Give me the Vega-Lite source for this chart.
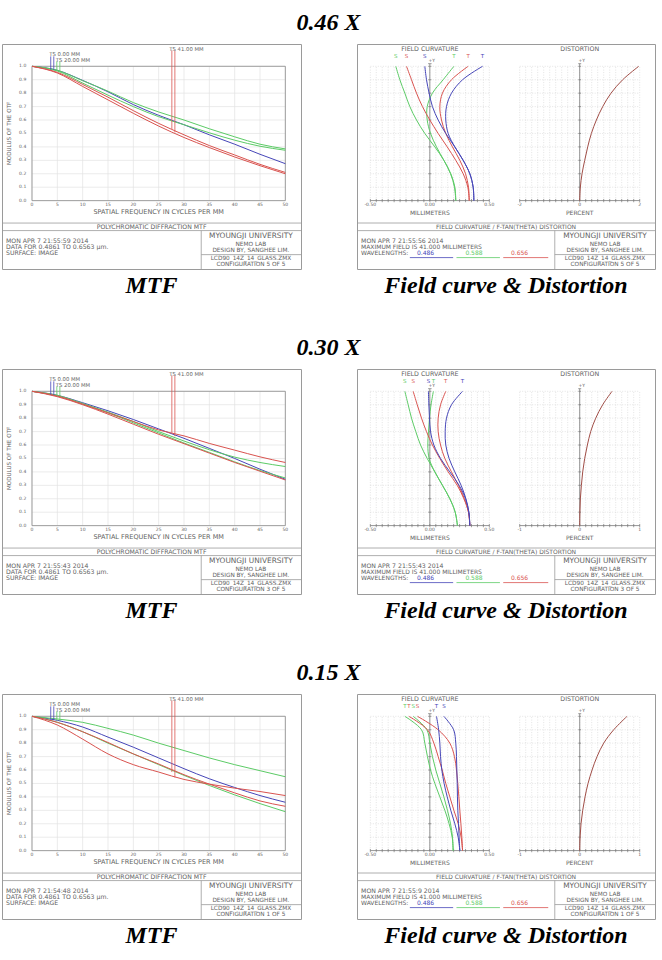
{
"$schema": "https://vega.github.io/schema/vega-lite/v6.json",
"padding": {"left": 1, "top": 10, "right": 0, "bottom": 0},
"data": {"values": [{}]},
"config": {
  "view": {"stroke": "#9a9a9a", "strokeWidth": 1},
  "axis": {"disable": true},
  "text": {"font": "DejaVu Sans", "fontSize": 6, "color": "#626262", "baseline": "middle"},
  "rule": {"color": "#8a8a8a", "strokeWidth": 0.8},
  "title": {"font": "Liberation Serif", "fontStyle": "italic", "fontWeight": "bold", "fontSize": 24, "color": "#000000"}
},
"datasets": {
  "mgx": [{"v":0},{"v":5},{"v":10},{"v":15},{"v":20},{"v":25},{"v":30},{"v":35},{"v":40},{"v":45},{"v":50}],
  "mgy": [{"v":0},{"v":0.1},{"v":0.2},{"v":0.3},{"v":0.4},{"v":0.5},{"v":0.6},{"v":0.7},{"v":0.8},{"v":0.9},{"v":1}],
  "fgx": [{"v":-0.5},{"v":-0.45},{"v":-0.4},{"v":-0.35},{"v":-0.3},{"v":-0.25},{"v":-0.2},{"v":-0.15},{"v":-0.1},{"v":-0.05},{"v":0},{"v":0.05},{"v":0.1},{"v":0.15},{"v":0.2},{"v":0.25},{"v":0.3},{"v":0.35},{"v":0.4},{"v":0.45},{"v":0.5}],
  "fgy": [{"v":4.1},{"v":8.2},{"v":12.3},{"v":16.4},{"v":20.5},{"v":24.6},{"v":28.7},{"v":32.8},{"v":36.9},{"v":41}],
  "dgx2": [{"v":-2},{"v":-1.8},{"v":-1.6},{"v":-1.4},{"v":-1.2},{"v":-1},{"v":-0.8},{"v":-0.6},{"v":-0.4},{"v":-0.2},{"v":0},{"v":0.2},{"v":0.4},{"v":0.6},{"v":0.8},{"v":1},{"v":1.2},{"v":1.4},{"v":1.6},{"v":1.8},{"v":2}],
  "dgx1": [{"v":-1},{"v":-0.9},{"v":-0.8},{"v":-0.7},{"v":-0.6},{"v":-0.5},{"v":-0.4},{"v":-0.3},{"v":-0.2},{"v":-0.1},{"v":0},{"v":0.1},{"v":0.2},{"v":0.3},{"v":0.4},{"v":0.5},{"v":0.6},{"v":0.7},{"v":0.8},{"v":0.9},{"v":1}],
  "fcl": [{"v":-0.5,"t":"-0.50"},{"v":0,"t":"0.00"},{"v":0.5,"t":"0.50"}],
  "dl2": [{"v":-2,"t":"-2"},{"v":0,"t":"0"},{"v":2,"t":"2"}],
  "dl1": [{"v":-1,"t":"-1"},{"v":0,"t":"0"},{"v":1,"t":"1"}],
  "m1": [
    {"c":"b","s":"T","f":0,"m":1},{"c":"b","s":"T","f":5,"m":0.97},{"c":"b","s":"T","f":10,"m":0.895},{"c":"b","s":"T","f":15,"m":0.81},{"c":"b","s":"T","f":20,"m":0.715},{"c":"b","s":"T","f":25,"m":0.635},{"c":"b","s":"T","f":30,"m":0.565},{"c":"b","s":"T","f":35,"m":0.49},{"c":"b","s":"T","f":40,"m":0.42},{"c":"b","s":"T","f":45,"m":0.345},{"c":"b","s":"T","f":50,"m":0.275},
    {"c":"g","s":"T","f":0,"m":1},{"c":"g","s":"T","f":5,"m":0.97},{"c":"g","s":"T","f":10,"m":0.893},{"c":"g","s":"T","f":15,"m":0.815},{"c":"g","s":"T","f":20,"m":0.73},{"c":"g","s":"T","f":25,"m":0.66},{"c":"g","s":"T","f":30,"m":0.6},{"c":"g","s":"T","f":35,"m":0.535},{"c":"g","s":"T","f":40,"m":0.475},{"c":"g","s":"T","f":45,"m":0.42},{"c":"g","s":"T","f":50,"m":0.385},
    {"c":"g","s":"S","f":0,"m":1},{"c":"g","s":"S","f":5,"m":0.965},{"c":"g","s":"S","f":10,"m":0.875},{"c":"g","s":"S","f":15,"m":0.785},{"c":"g","s":"S","f":20,"m":0.7},{"c":"g","s":"S","f":25,"m":0.625},{"c":"g","s":"S","f":30,"m":0.565},{"c":"g","s":"S","f":35,"m":0.505},{"c":"g","s":"S","f":40,"m":0.45},{"c":"g","s":"S","f":45,"m":0.405},{"c":"g","s":"S","f":50,"m":0.375},
    {"c":"r","s":"T","f":0,"m":1},{"c":"r","s":"T","f":5,"m":0.955},{"c":"r","s":"T","f":10,"m":0.865},{"c":"r","s":"T","f":15,"m":0.77},{"c":"r","s":"T","f":20,"m":0.67},{"c":"r","s":"T","f":25,"m":0.575},{"c":"r","s":"T","f":30,"m":0.49},{"c":"r","s":"T","f":35,"m":0.41},{"c":"r","s":"T","f":40,"m":0.34},{"c":"r","s":"T","f":45,"m":0.27},{"c":"r","s":"T","f":50,"m":0.21},
    {"c":"r","s":"S","f":0,"m":1},{"c":"r","s":"S","f":5,"m":0.95},{"c":"r","s":"S","f":10,"m":0.85},{"c":"r","s":"S","f":15,"m":0.75},{"c":"r","s":"S","f":20,"m":0.65},{"c":"r","s":"S","f":25,"m":0.555},{"c":"r","s":"S","f":30,"m":0.47},{"c":"r","s":"S","f":35,"m":0.395},{"c":"r","s":"S","f":40,"m":0.325},{"c":"r","s":"S","f":45,"m":0.26},{"c":"r","s":"S","f":50,"m":0.2}
  ],
  "m2": [
    {"c":"b","s":"T","f":0,"m":1},{"c":"b","s":"T","f":5,"m":0.97},{"c":"b","s":"T","f":10,"m":0.915},{"c":"b","s":"T","f":15,"m":0.855},{"c":"b","s":"T","f":20,"m":0.79},{"c":"b","s":"T","f":25,"m":0.72},{"c":"b","s":"T","f":30,"m":0.65},{"c":"b","s":"T","f":35,"m":0.575},{"c":"b","s":"T","f":40,"m":0.5},{"c":"b","s":"T","f":45,"m":0.42},{"c":"b","s":"T","f":50,"m":0.345},
    {"c":"g","s":"T","f":0,"m":1},{"c":"g","s":"T","f":5,"m":0.97},{"c":"g","s":"T","f":10,"m":0.91},{"c":"g","s":"T","f":15,"m":0.845},{"c":"g","s":"T","f":20,"m":0.775},{"c":"g","s":"T","f":25,"m":0.7},{"c":"g","s":"T","f":30,"m":0.63},{"c":"g","s":"T","f":35,"m":0.565},{"c":"g","s":"T","f":40,"m":0.51},{"c":"g","s":"T","f":45,"m":0.47},{"c":"g","s":"T","f":50,"m":0.44},
    {"c":"g","s":"S","f":0,"m":1},{"c":"g","s":"S","f":5,"m":0.965},{"c":"g","s":"S","f":10,"m":0.905},{"c":"g","s":"S","f":15,"m":0.84},{"c":"g","s":"S","f":20,"m":0.765},{"c":"g","s":"S","f":25,"m":0.69},{"c":"g","s":"S","f":30,"m":0.615},{"c":"g","s":"S","f":35,"m":0.545},{"c":"g","s":"S","f":40,"m":0.475},{"c":"g","s":"S","f":45,"m":0.41},{"c":"g","s":"S","f":50,"m":0.355},
    {"c":"r","s":"T","f":0,"m":1},{"c":"r","s":"T","f":5,"m":0.965},{"c":"r","s":"T","f":10,"m":0.905},{"c":"r","s":"T","f":15,"m":0.84},{"c":"r","s":"T","f":20,"m":0.775},{"c":"r","s":"T","f":25,"m":0.712},{"c":"r","s":"T","f":30,"m":0.668},{"c":"r","s":"T","f":35,"m":0.612},{"c":"r","s":"T","f":40,"m":0.562},{"c":"r","s":"T","f":45,"m":0.512},{"c":"r","s":"T","f":50,"m":0.47},
    {"c":"r","s":"S","f":0,"m":1},{"c":"r","s":"S","f":5,"m":0.96},{"c":"r","s":"S","f":10,"m":0.9},{"c":"r","s":"S","f":15,"m":0.83},{"c":"r","s":"S","f":20,"m":0.755},{"c":"r","s":"S","f":25,"m":0.68},{"c":"r","s":"S","f":30,"m":0.61},{"c":"r","s":"S","f":35,"m":0.54},{"c":"r","s":"S","f":40,"m":0.47},{"c":"r","s":"S","f":45,"m":0.405},{"c":"r","s":"S","f":50,"m":0.34}
  ],
  "m3": [
    {"c":"b","s":"T","f":0,"m":1},{"c":"b","s":"T","f":5,"m":0.97},{"c":"b","s":"T","f":10,"m":0.92},{"c":"b","s":"T","f":15,"m":0.845},{"c":"b","s":"T","f":20,"m":0.77},{"c":"b","s":"T","f":25,"m":0.69},{"c":"b","s":"T","f":30,"m":0.61},{"c":"b","s":"T","f":35,"m":0.535},{"c":"b","s":"T","f":40,"m":0.47},{"c":"b","s":"T","f":45,"m":0.41},{"c":"b","s":"T","f":50,"m":0.36},
    {"c":"g","s":"T","f":0,"m":1},{"c":"g","s":"T","f":5,"m":0.98},{"c":"g","s":"T","f":10,"m":0.955},{"c":"g","s":"T","f":15,"m":0.91},{"c":"g","s":"T","f":20,"m":0.86},{"c":"g","s":"T","f":25,"m":0.8},{"c":"g","s":"T","f":30,"m":0.745},{"c":"g","s":"T","f":35,"m":0.69},{"c":"g","s":"T","f":40,"m":0.64},{"c":"g","s":"T","f":45,"m":0.595},{"c":"g","s":"T","f":50,"m":0.55},
    {"c":"g","s":"S","f":0,"m":1},{"c":"g","s":"S","f":5,"m":0.955},{"c":"g","s":"S","f":10,"m":0.885},{"c":"g","s":"S","f":15,"m":0.8},{"c":"g","s":"S","f":20,"m":0.72},{"c":"g","s":"S","f":25,"m":0.64},{"c":"g","s":"S","f":30,"m":0.56},{"c":"g","s":"S","f":35,"m":0.485},{"c":"g","s":"S","f":40,"m":0.415},{"c":"g","s":"S","f":45,"m":0.35},{"c":"g","s":"S","f":50,"m":0.29},
    {"c":"r","s":"T","f":0,"m":1},{"c":"r","s":"T","f":5,"m":0.935},{"c":"r","s":"T","f":10,"m":0.83},{"c":"r","s":"T","f":15,"m":0.72},{"c":"r","s":"T","f":20,"m":0.64},{"c":"r","s":"T","f":25,"m":0.585},{"c":"r","s":"T","f":30,"m":0.53},{"c":"r","s":"T","f":35,"m":0.495},{"c":"r","s":"T","f":40,"m":0.465},{"c":"r","s":"T","f":45,"m":0.44},{"c":"r","s":"T","f":50,"m":0.41},
    {"c":"r","s":"S","f":0,"m":1},{"c":"r","s":"S","f":5,"m":0.955},{"c":"r","s":"S","f":10,"m":0.885},{"c":"r","s":"S","f":15,"m":0.805},{"c":"r","s":"S","f":20,"m":0.72},{"c":"r","s":"S","f":25,"m":0.645},{"c":"r","s":"S","f":30,"m":0.565},{"c":"r","s":"S","f":35,"m":0.495},{"c":"r","s":"S","f":40,"m":0.43},{"c":"r","s":"S","f":45,"m":0.37},{"c":"r","s":"S","f":50,"m":0.33}
  ],
  "ml1": [{"c":"b","f":3.7,"m":0.975},{"c":"b","f":4.3,"m":0.972},{"c":"g","f":4.9,"m":0.968},{"c":"g","f":5.5,"m":0.964},{"c":"r","f":27.6,"m":0.53},{"c":"r","f":28.2,"m":0.508}],
  "ml2": [{"c":"b","f":3.7,"m":0.975},{"c":"b","f":4.3,"m":0.972},{"c":"g","f":4.9,"m":0.968},{"c":"g","f":5.5,"m":0.964},{"c":"r","f":27.6,"m":0.69},{"c":"r","f":28.2,"m":0.665}],
  "ml3": [{"c":"b","f":3.7,"m":0.975},{"c":"b","f":4.3,"m":0.972},{"c":"g","f":4.9,"m":0.968},{"c":"g","f":5.5,"m":0.964},{"c":"r","f":27.6,"m":0.585},{"c":"r","f":28.2,"m":0.545}],
  "f1": [
    {"c":"g","s":"S","mm":-0.286,"fy":41},{"c":"g","s":"S","mm":-0.252,"fy":36.9},{"c":"g","s":"S","mm":-0.21,"fy":32.8},{"c":"g","s":"S","mm":-0.168,"fy":28.7},{"c":"g","s":"S","mm":-0.112,"fy":24.6},{"c":"g","s":"S","mm":-0.042,"fy":20.5},{"c":"g","s":"S","mm":0.042,"fy":16.4},{"c":"g","s":"S","mm":0.118,"fy":12.3},{"c":"g","s":"S","mm":0.176,"fy":8.2},{"c":"g","s":"S","mm":0.21,"fy":4.1},{"c":"g","s":"S","mm":0.218,"fy":0},
    {"c":"g","s":"T","mm":0.202,"fy":41},{"c":"g","s":"T","mm":0.112,"fy":36.9},{"c":"g","s":"T","mm":0.022,"fy":32.8},{"c":"g","s":"T","mm":-0.022,"fy":28.7},{"c":"g","s":"T","mm":-0.022,"fy":24.6},{"c":"g","s":"T","mm":0.006,"fy":20.5},{"c":"g","s":"T","mm":0.056,"fy":16.4},{"c":"g","s":"T","mm":0.118,"fy":12.3},{"c":"g","s":"T","mm":0.174,"fy":8.2},{"c":"g","s":"T","mm":0.207,"fy":4.1},{"c":"g","s":"T","mm":0.218,"fy":0},
    {"c":"r","s":"S","mm":-0.196,"fy":41},{"c":"r","s":"S","mm":-0.154,"fy":36.9},{"c":"r","s":"S","mm":-0.112,"fy":32.8},{"c":"r","s":"S","mm":-0.062,"fy":28.7},{"c":"r","s":"S","mm":0,"fy":24.6},{"c":"r","s":"S","mm":0.07,"fy":20.5},{"c":"r","s":"S","mm":0.146,"fy":16.4},{"c":"r","s":"S","mm":0.218,"fy":12.3},{"c":"r","s":"S","mm":0.28,"fy":8.2},{"c":"r","s":"S","mm":0.319,"fy":4.1},{"c":"r","s":"S","mm":0.331,"fy":0},
    {"c":"r","s":"T","mm":0.322,"fy":41},{"c":"r","s":"T","mm":0.182,"fy":36.9},{"c":"r","s":"T","mm":0.106,"fy":32.8},{"c":"r","s":"T","mm":0.084,"fy":28.7},{"c":"r","s":"T","mm":0.098,"fy":24.6},{"c":"r","s":"T","mm":0.134,"fy":20.5},{"c":"r","s":"T","mm":0.19,"fy":16.4},{"c":"r","s":"T","mm":0.252,"fy":12.3},{"c":"r","s":"T","mm":0.3,"fy":8.2},{"c":"r","s":"T","mm":0.325,"fy":4.1},{"c":"r","s":"T","mm":0.331,"fy":0},
    {"c":"b","s":"S","mm":-0.042,"fy":41},{"c":"b","s":"S","mm":-0.028,"fy":36.9},{"c":"b","s":"S","mm":-0.006,"fy":32.8},{"c":"b","s":"S","mm":0.022,"fy":28.7},{"c":"b","s":"S","mm":0.07,"fy":24.6},{"c":"b","s":"S","mm":0.134,"fy":20.5},{"c":"b","s":"S","mm":0.21,"fy":16.4},{"c":"b","s":"S","mm":0.28,"fy":12.3},{"c":"b","s":"S","mm":0.336,"fy":8.2},{"c":"b","s":"S","mm":0.364,"fy":4.1},{"c":"b","s":"S","mm":0.37,"fy":0},
    {"c":"b","s":"T","mm":0.443,"fy":41},{"c":"b","s":"T","mm":0.275,"fy":36.9},{"c":"b","s":"T","mm":0.182,"fy":32.8},{"c":"b","s":"T","mm":0.14,"fy":28.7},{"c":"b","s":"T","mm":0.134,"fy":24.6},{"c":"b","s":"T","mm":0.154,"fy":20.5},{"c":"b","s":"T","mm":0.21,"fy":16.4},{"c":"b","s":"T","mm":0.28,"fy":12.3},{"c":"b","s":"T","mm":0.336,"fy":8.2},{"c":"b","s":"T","mm":0.364,"fy":4.1},{"c":"b","s":"T","mm":0.37,"fy":0}
  ],
  "f2": [
    {"c":"g","s":"S","mm":-0.21,"fy":41},{"c":"g","s":"S","mm":-0.182,"fy":36.9},{"c":"g","s":"S","mm":-0.154,"fy":32.8},{"c":"g","s":"S","mm":-0.118,"fy":28.7},{"c":"g","s":"S","mm":-0.078,"fy":24.6},{"c":"g","s":"S","mm":-0.022,"fy":20.5},{"c":"g","s":"S","mm":0.042,"fy":16.4},{"c":"g","s":"S","mm":0.106,"fy":12.3},{"c":"g","s":"S","mm":0.168,"fy":8.2},{"c":"g","s":"S","mm":0.213,"fy":4.1},{"c":"g","s":"S","mm":0.232,"fy":0},
    {"c":"g","s":"T","mm":0.03,"fy":41},{"c":"g","s":"T","mm":0.01,"fy":36.9},{"c":"g","s":"T","mm":-0.003,"fy":32.8},{"c":"g","s":"T","mm":-0.011,"fy":28.7},{"c":"g","s":"T","mm":-0.017,"fy":24.6},{"c":"g","s":"T","mm":-0.006,"fy":20.5},{"c":"g","s":"T","mm":0.042,"fy":16.4},{"c":"g","s":"T","mm":0.106,"fy":12.3},{"c":"g","s":"T","mm":0.168,"fy":8.2},{"c":"g","s":"T","mm":0.213,"fy":4.1},{"c":"g","s":"T","mm":0.232,"fy":0},
    {"c":"r","s":"S","mm":-0.14,"fy":41},{"c":"r","s":"S","mm":-0.106,"fy":36.9},{"c":"r","s":"S","mm":-0.07,"fy":32.8},{"c":"r","s":"S","mm":-0.028,"fy":28.7},{"c":"r","s":"S","mm":0.022,"fy":24.6},{"c":"r","s":"S","mm":0.084,"fy":20.5},{"c":"r","s":"S","mm":0.154,"fy":16.4},{"c":"r","s":"S","mm":0.23,"fy":12.3},{"c":"r","s":"S","mm":0.286,"fy":8.2},{"c":"r","s":"S","mm":0.325,"fy":4.1},{"c":"r","s":"S","mm":0.336,"fy":0},
    {"c":"r","s":"T","mm":0.134,"fy":41},{"c":"r","s":"T","mm":0.09,"fy":36.9},{"c":"r","s":"T","mm":0.07,"fy":32.8},{"c":"r","s":"T","mm":0.07,"fy":28.7},{"c":"r","s":"T","mm":0.09,"fy":24.6},{"c":"r","s":"T","mm":0.126,"fy":20.5},{"c":"r","s":"T","mm":0.182,"fy":16.4},{"c":"r","s":"T","mm":0.241,"fy":12.3},{"c":"r","s":"T","mm":0.291,"fy":8.2},{"c":"r","s":"T","mm":0.325,"fy":4.1},{"c":"r","s":"T","mm":0.336,"fy":0},
    {"c":"b","s":"S","mm":-0.012,"fy":41},{"c":"b","s":"S","mm":-0.008,"fy":36.9},{"c":"b","s":"S","mm":-0.003,"fy":32.8},{"c":"b","s":"S","mm":0.006,"fy":28.7},{"c":"b","s":"S","mm":0.034,"fy":24.6},{"c":"b","s":"S","mm":0.09,"fy":20.5},{"c":"b","s":"S","mm":0.168,"fy":16.4},{"c":"b","s":"S","mm":0.246,"fy":12.3},{"c":"b","s":"S","mm":0.3,"fy":8.2},{"c":"b","s":"S","mm":0.328,"fy":4.1},{"c":"b","s":"S","mm":0.336,"fy":0},
    {"c":"b","s":"T","mm":0.275,"fy":41},{"c":"b","s":"T","mm":0.182,"fy":36.9},{"c":"b","s":"T","mm":0.14,"fy":32.8},{"c":"b","s":"T","mm":0.129,"fy":28.7},{"c":"b","s":"T","mm":0.134,"fy":24.6},{"c":"b","s":"T","mm":0.162,"fy":20.5},{"c":"b","s":"T","mm":0.21,"fy":16.4},{"c":"b","s":"T","mm":0.263,"fy":12.3},{"c":"b","s":"T","mm":0.303,"fy":8.2},{"c":"b","s":"T","mm":0.328,"fy":4.1},{"c":"b","s":"T","mm":0.336,"fy":0}
  ],
  "f3": [
    {"c":"g","s":"T","mm":-0.21,"fy":41},{"c":"g","s":"T","mm":-0.07,"fy":36.9},{"c":"g","s":"T","mm":-0.042,"fy":32.8},{"c":"g","s":"T","mm":-0.02,"fy":28.7},{"c":"g","s":"T","mm":0.006,"fy":24.6},{"c":"g","s":"T","mm":0.042,"fy":20.5},{"c":"g","s":"T","mm":0.084,"fy":16.4},{"c":"g","s":"T","mm":0.126,"fy":12.3},{"c":"g","s":"T","mm":0.162,"fy":8.2},{"c":"g","s":"T","mm":0.188,"fy":4.1},{"c":"g","s":"T","mm":0.196,"fy":0},
    {"c":"g","s":"S","mm":-0.14,"fy":41},{"c":"g","s":"S","mm":-0.025,"fy":36.9},{"c":"g","s":"S","mm":0,"fy":32.8},{"c":"g","s":"S","mm":0.022,"fy":28.7},{"c":"g","s":"S","mm":0.05,"fy":24.6},{"c":"g","s":"S","mm":0.084,"fy":20.5},{"c":"g","s":"S","mm":0.118,"fy":16.4},{"c":"g","s":"S","mm":0.148,"fy":12.3},{"c":"g","s":"S","mm":0.174,"fy":8.2},{"c":"g","s":"S","mm":0.19,"fy":4.1},{"c":"g","s":"S","mm":0.196,"fy":0},
    {"c":"r","s":"T","mm":-0.176,"fy":41},{"c":"r","s":"T","mm":-0.02,"fy":36.9},{"c":"r","s":"T","mm":0.034,"fy":32.8},{"c":"r","s":"T","mm":0.07,"fy":28.7},{"c":"r","s":"T","mm":0.104,"fy":24.6},{"c":"r","s":"T","mm":0.134,"fy":20.5},{"c":"r","s":"T","mm":0.168,"fy":16.4},{"c":"r","s":"T","mm":0.202,"fy":12.3},{"c":"r","s":"T","mm":0.238,"fy":8.2},{"c":"r","s":"T","mm":0.263,"fy":4.1},{"c":"r","s":"T","mm":0.275,"fy":0},
    {"c":"r","s":"S","mm":-0.104,"fy":41},{"c":"r","s":"S","mm":0.07,"fy":36.9},{"c":"r","s":"S","mm":0.168,"fy":32.8},{"c":"r","s":"S","mm":0.207,"fy":28.7},{"c":"r","s":"S","mm":0.224,"fy":24.6},{"c":"r","s":"S","mm":0.235,"fy":20.5},{"c":"r","s":"S","mm":0.244,"fy":16.4},{"c":"r","s":"S","mm":0.252,"fy":12.3},{"c":"r","s":"S","mm":0.261,"fy":8.2},{"c":"r","s":"S","mm":0.269,"fy":4.1},{"c":"r","s":"S","mm":0.275,"fy":0},
    {"c":"b","s":"T","mm":0.056,"fy":41},{"c":"b","s":"T","mm":0.074,"fy":36.9},{"c":"b","s":"T","mm":0.084,"fy":32.8},{"c":"b","s":"T","mm":0.09,"fy":28.7},{"c":"b","s":"T","mm":0.101,"fy":24.6},{"c":"b","s":"T","mm":0.12,"fy":20.5},{"c":"b","s":"T","mm":0.146,"fy":16.4},{"c":"b","s":"T","mm":0.176,"fy":12.3},{"c":"b","s":"T","mm":0.21,"fy":8.2},{"c":"b","s":"T","mm":0.238,"fy":4.1},{"c":"b","s":"T","mm":0.252,"fy":0},
    {"c":"b","s":"S","mm":0.118,"fy":41},{"c":"b","s":"S","mm":0.2,"fy":36.9},{"c":"b","s":"S","mm":0.218,"fy":32.8},{"c":"b","s":"S","mm":0.224,"fy":28.7},{"c":"b","s":"S","mm":0.227,"fy":24.6},{"c":"b","s":"S","mm":0.23,"fy":20.5},{"c":"b","s":"S","mm":0.232,"fy":16.4},{"c":"b","s":"S","mm":0.235,"fy":12.3},{"c":"b","s":"S","mm":0.241,"fy":8.2},{"c":"b","s":"S","mm":0.246,"fy":4.1},{"c":"b","s":"S","mm":0.252,"fy":0}
  ],
  "d1": [{"c":"d","p":0,"fy":0},{"c":"d","p":0.022,"fy":4.1},{"c":"d","p":0.078,"fy":8.2},{"c":"d","p":0.167,"fy":12.3},{"c":"d","p":0.267,"fy":16.4},{"c":"d","p":0.389,"fy":20.5},{"c":"d","p":0.556,"fy":24.6},{"c":"d","p":0.767,"fy":28.7},{"c":"d","p":1.044,"fy":32.8},{"c":"d","p":1.433,"fy":36.9},{"c":"d","p":1.967,"fy":41}],
  "d2": [{"c":"d","p":0,"fy":0},{"c":"d","p":0.003,"fy":4.1},{"c":"d","p":0.011,"fy":8.2},{"c":"d","p":0.028,"fy":12.3},{"c":"d","p":0.05,"fy":16.4},{"c":"d","p":0.083,"fy":20.5},{"c":"d","p":0.128,"fy":24.6},{"c":"d","p":0.183,"fy":28.7},{"c":"d","p":0.267,"fy":32.8},{"c":"d","p":0.383,"fy":36.9},{"c":"d","p":0.539,"fy":41}],
  "d3": [{"c":"d","p":0,"fy":0},{"c":"d","p":0.006,"fy":4.1},{"c":"d","p":0.022,"fy":8.2},{"c":"d","p":0.05,"fy":12.3},{"c":"d","p":0.089,"fy":16.4},{"c":"d","p":0.139,"fy":20.5},{"c":"d","p":0.206,"fy":24.6},{"c":"d","p":0.289,"fy":28.7},{"c":"d","p":0.4,"fy":32.8},{"c":"d","p":0.567,"fy":36.9},{"c":"d","p":0.789,"fy":41}]
},
"spacing": 36,
"vconcat": [
{
  "title": {"text": "0.46 X", "anchor": "middle", "offset": 9},
  "spacing": 54,
  "hconcat": [
  {
    "width": 299, "height": 225,
    "title": {"text": "MTF", "orient": "bottom", "offset": 5},
    "layer": [
      {"data": {"name": "mgx"}, "mark": {"type": "rule", "color": "#e2e2e2", "strokeWidth": 0.7}, "encoding": {"x": {"field": "v", "type": "quantitative", "scale": {"domain": [-5.92, 53.09], "nice": false, "zero": false}, "axis": null}, "y": {"datum": 0, "scale": {"domain": [-0.509, 1.166], "nice": false, "zero": false}, "axis": null}, "y2": {"datum": 1}}},
      {"data": {"name": "mgy"}, "mark": {"type": "rule", "color": "#e2e2e2", "strokeWidth": 0.7}, "encoding": {"y": {"field": "v", "type": "quantitative"}, "x": {"datum": 0}, "x2": {"datum": 50}}},
      {"data": {"values": [{"v": 0}, {"v": 50}]}, "mark": {"type": "rule"}, "encoding": {"x": {"field": "v", "type": "quantitative"}, "y": {"datum": 0}, "y2": {"datum": 1}}},
      {"data": {"values": [{"v": 0}, {"v": 1}]}, "mark": {"type": "rule"}, "encoding": {"y": {"field": "v", "type": "quantitative"}, "x": {"datum": 0}, "x2": {"datum": 50}}},
      {"data": {"name": "mgx"}, "mark": {"type": "text", "fontSize": 4.5}, "encoding": {"x": {"field": "v", "type": "quantitative"}, "y": {"datum": -0.035}, "text": {"field": "v", "type": "quantitative"}}},
      {"data": {"name": "mgy"}, "mark": {"type": "text", "fontSize": 4.5}, "encoding": {"y": {"field": "v", "type": "quantitative"}, "x": {"datum": -1.84}, "text": {"field": "v", "type": "quantitative", "format": ".1f"}}},
      {"mark": {"type": "text", "text": "MODULUS OF THE OTF", "angle": 270, "fontSize": 5.6}, "encoding": {"x": {"datum": -4.5}, "y": {"datum": 0.5}}},
      {"mark": {"type": "text", "text": "SPATIAL FREQUENCY IN CYCLES PER MM", "fontSize": 6.5}, "encoding": {"x": {"datum": 25}, "y": {"datum": -0.085}}},
      {"data": {"name": "m1"}, "mark": {"type": "line", "interpolate": "monotone", "strokeWidth": 1}, "encoding": {"x": {"field": "f", "type": "quantitative"}, "y": {"field": "m", "type": "quantitative"}, "color": {"field": "c", "type": "nominal", "scale": {"domain": ["b","g","r","d"], "range": ["#4646b8","#5ccb66","#d9534f","#a04d46"]}, "legend": null}, "detail": {"field": "s"}}},
      {"data": {"name": "ml1"}, "transform": [{"filter": "datum.c == 'b'"}], "mark": {"type": "rule", "strokeWidth": 0.8}, "encoding": {"x": {"field": "f", "type": "quantitative"}, "y": {"field": "m", "type": "quantitative"}, "y2": {"datum": 1.074}, "color": {"field": "c", "type": "nominal", "scale": {"domain": ["b","g","r","d"], "range": ["#4646b8","#5ccb66","#d9534f","#a04d46"]}, "legend": null}}},
      {"data": {"name": "ml1"}, "transform": [{"filter": "datum.c == 'g'"}], "mark": {"type": "rule", "strokeWidth": 0.8}, "encoding": {"x": {"field": "f", "type": "quantitative"}, "y": {"field": "m", "type": "quantitative"}, "y2": {"datum": 1.037}, "color": {"field": "c", "type": "nominal", "scale": {"domain": ["b","g","r","d"], "range": ["#4646b8","#5ccb66","#d9534f","#a04d46"]}, "legend": null}}},
      {"data": {"name": "ml1"}, "transform": [{"filter": "datum.c == 'r'"}], "mark": {"type": "rule", "strokeWidth": 0.8}, "encoding": {"x": {"field": "f", "type": "quantitative"}, "y": {"field": "m", "type": "quantitative"}, "y2": {"datum": 1.118}, "color": {"field": "c", "type": "nominal", "scale": {"domain": ["b","g","r","d"], "range": ["#4646b8","#5ccb66","#d9534f","#a04d46"]}, "legend": null}}},
      {"mark": {"type": "text", "text": "TS 0.00 MM", "align": "left", "fontSize": 5.3}, "encoding": {"x": {"datum": 3.4}, "y": {"datum": 1.092}}},
      {"mark": {"type": "text", "text": "TS 20.00 MM", "align": "left", "fontSize": 5.3}, "encoding": {"x": {"datum": 4.7}, "y": {"datum": 1.05}}},
      {"mark": {"type": "text", "text": "TS 41.00 MM", "align": "left", "fontSize": 5.3}, "encoding": {"x": {"datum": 27.1}, "y": {"datum": 1.132}}},
      {"mark": {"type": "rule", "color": "#9a9a9a"}, "encoding": {"x": {"datum": -5.92}, "x2": {"datum": 53.09}, "y": {"datum": -0.167}}},
      {"mark": {"type": "rule", "color": "#9a9a9a"}, "encoding": {"x": {"datum": -5.92}, "x2": {"datum": 53.09}, "y": {"datum": -0.223}}},
      {"mark": {"type": "rule", "color": "#9a9a9a"}, "encoding": {"x": {"datum": 33.4}, "y": {"datum": -0.223}, "y2": {"datum": -0.509}}},
      {"mark": {"type": "rule", "color": "#9a9a9a"}, "encoding": {"x": {"datum": 33.4}, "x2": {"datum": 53.09}, "y": {"datum": -0.402}}},
      {"mark": {"type": "text", "text": "POLYCHROMATIC DIFFRACTION MTF", "fontSize": 6.2}, "encoding": {"x": {"datum": 23.6}, "y": {"datum": -0.197}}},
      {"mark": {"type": "text", "text": "MON APR 7 21:55:59 2014", "align": "left", "fontSize": 6.2}, "encoding": {"x": {"datum": -5.13}, "y": {"datum": -0.2994}}},
      {"mark": {"type": "text", "text": "DATA FOR 0.4861 TO 0.6563 µm.", "align": "left", "fontSize": 6.2}, "encoding": {"x": {"datum": -5.13}, "y": {"datum": -0.3455}}},
      {"mark": {"type": "text", "text": "SURFACE: IMAGE", "align": "left", "fontSize": 6.2}, "encoding": {"x": {"datum": -5.13}, "y": {"datum": -0.3917}}},
      {"mark": {"type": "text", "text": "MYOUNGJI UNIVERSITY", "fontSize": 7.4}, "encoding": {"x": {"datum": 43.2}, "y": {"datum": -0.261}}},
      {"mark": {"type": "text", "text": "NEMO LAB", "fontSize": 5.8}, "encoding": {"x": {"datum": 43.2}, "y": {"datum": -0.323}}},
      {"mark": {"type": "text", "text": "DESIGN BY, SANGHEE LIM.", "fontSize": 5.8}, "encoding": {"x": {"datum": 43.2}, "y": {"datum": -0.37}}},
      {"mark": {"type": "text", "text": "LCD90_14Z_14_GLASS.ZMX", "fontSize": 5.8}, "encoding": {"x": {"datum": 43.2}, "y": {"datum": -0.429}}},
      {"mark": {"type": "text", "text": "CONFIGURATION 5 OF 5", "fontSize": 5.8}, "encoding": {"x": {"datum": 43.2}, "y": {"datum": -0.474}}}
    ]
  },
  {
    "width": 298, "height": 225,
    "title": {"text": "Field curve & Distortion", "orient": "bottom", "offset": 5},
    "resolve": {"scale": {"x": "independent"}},
    "layer": [
      {"layer": [
        {"data": {"name": "fgx"}, "mark": {"type": "rule", "color": "#d2d2d2", "strokeWidth": 0.6, "strokeDash": [1, 1.5]}, "encoding": {"x": {"field": "v", "type": "quantitative", "scale": {"domain": [-0.612, 1.892], "nice": false, "zero": false}, "axis": null}, "y": {"datum": 0, "scale": {"domain": [-20.88, 47.81], "nice": false, "zero": false}, "axis": null}, "y2": {"datum": 41}}},
        {"data": {"name": "fgy"}, "mark": {"type": "rule", "color": "#d2d2d2", "strokeWidth": 0.6, "strokeDash": [1, 1.5]}, "encoding": {"y": {"field": "v", "type": "quantitative"}, "x": {"datum": -0.5}, "x2": {"datum": 0.5}}},
        {"mark": {"type": "rule", "color": "#777777"}, "encoding": {"x": {"datum": -0.5}, "x2": {"datum": 0.5}, "y": {"datum": 0}}},
        {"data": {"name": "fgx"}, "mark": {"type": "rule", "color": "#777777", "strokeWidth": 0.7}, "encoding": {"x": {"field": "v", "type": "quantitative"}, "y": {"datum": -0.5}, "y2": {"datum": 0.5}}},
        {"mark": {"type": "rule", "color": "#777777"}, "encoding": {"x": {"datum": 0}, "y": {"datum": 0}, "y2": {"datum": 41.8}}},
        {"data": {"name": "fgy"}, "mark": {"type": "rule", "color": "#777777", "strokeWidth": 0.7}, "encoding": {"y": {"field": "v", "type": "quantitative"}, "x": {"datum": -0.013}, "x2": {"datum": 0.013}}},
        {"mark": {"type": "rule", "color": "#777777", "strokeWidth": 0.7}, "encoding": {"x": {"datum": -0.015}, "x2": {"datum": 0.015}, "y": {"datum": 41.8}}},
        {"data": {"name": "f1"}, "mark": {"type": "line", "interpolate": "catmull-rom", "strokeWidth": 1}, "encoding": {"x": {"field": "mm", "type": "quantitative"}, "y": {"field": "fy", "type": "quantitative"}, "color": {"field": "c", "type": "nominal", "scale": {"domain": ["b","g","r","d"], "range": ["#4646b8","#5ccb66","#d9534f","#a04d46"]}, "legend": null}, "detail": {"field": "s"}, "order": {"field": "fy", "type": "quantitative"}}},
        {"data": {"name": "f1"}, "transform": [{"filter": "datum.fy == 41"}], "mark": {"type": "text", "fontSize": 5.5}, "encoding": {"x": {"field": "mm", "type": "quantitative"}, "y": {"datum": 44.15}, "text": {"field": "s"}, "color": {"field": "c", "type": "nominal", "scale": {"domain": ["b","g","r","d"], "range": ["#4646b8","#5ccb66","#d9534f","#a04d46"]}, "legend": null}}},
        {"mark": {"type": "text", "text": "+Y", "fontSize": 4.5, "align": "left"}, "encoding": {"x": {"datum": -0.011}, "y": {"datum": 42.47}}},
        {"mark": {"type": "text", "text": "FIELD CURVATURE", "fontSize": 6.3}, "encoding": {"x": {"datum": 0}, "y": {"datum": 46.34}}},
        {"data": {"name": "fcl"}, "mark": {"type": "text", "fontSize": 4.5}, "encoding": {"x": {"field": "v", "type": "quantitative"}, "y": {"datum": -1.45}, "text": {"field": "t"}}},
        {"mark": {"type": "text", "text": "MILLIMETERS", "fontSize": 6}, "encoding": {"x": {"datum": 0}, "y": {"datum": -3.9}}},
        {"mark": {"type": "rule", "color": "#9a9a9a"}, "encoding": {"x": {"datum": -0.612}, "x2": {"datum": 1.892}, "y": {"datum": -6.84}}},
        {"mark": {"type": "rule", "color": "#9a9a9a"}, "encoding": {"x": {"datum": -0.612}, "x2": {"datum": 1.892}, "y": {"datum": -9.16}}},
        {"mark": {"type": "rule", "color": "#9a9a9a"}, "encoding": {"x": {"datum": 1.05}, "y": {"datum": -9.16}, "y2": {"datum": -20.88}}},
        {"mark": {"type": "rule", "color": "#9a9a9a"}, "encoding": {"x": {"datum": 1.05}, "x2": {"datum": 1.892}, "y": {"datum": -16.48}}},
        {"mark": {"type": "text", "text": "FIELD CURVATURE / F-TAN(THETA) DISTORTION", "fontSize": 6}, "encoding": {"x": {"datum": 0.64}, "y": {"datum": -8.06}}},
        {"mark": {"type": "text", "text": "MON APR 7 21:55:56 2014", "align": "left", "fontSize": 6.2}, "encoding": {"x": {"datum": -0.578}, "y": {"datum": -12.27}}},
        {"mark": {"type": "text", "text": "MAXIMUM FIELD IS 41.000 MILLIMETERS", "align": "left", "fontSize": 6}, "encoding": {"x": {"datum": -0.578}, "y": {"datum": -14.16}}},
        {"mark": {"type": "text", "text": "WAVELENGTHS:", "align": "left", "fontSize": 6}, "encoding": {"x": {"datum": -0.578}, "y": {"datum": -16.06}}},
        {"mark": {"type": "text", "text": "0.486", "fontSize": 6, "color": "#4646b8"}, "encoding": {"x": {"datum": -0.036}, "y": {"datum": -16.06}}},
        {"mark": {"type": "text", "text": "0.588", "fontSize": 6, "color": "#5ccb66"}, "encoding": {"x": {"datum": 0.371}, "y": {"datum": -16.06}}},
        {"mark": {"type": "text", "text": "0.656", "fontSize": 6, "color": "#d9534f"}, "encoding": {"x": {"datum": 0.754}, "y": {"datum": -16.06}}},
        {"mark": {"type": "rule", "color": "#4646b8"}, "encoding": {"x": {"datum": -0.168}, "x2": {"datum": 0.196}, "y": {"datum": -17.4}}},
        {"mark": {"type": "rule", "color": "#5ccb66"}, "encoding": {"x": {"datum": 0.224}, "x2": {"datum": 0.589}, "y": {"datum": -17.4}}},
        {"mark": {"type": "rule", "color": "#d9534f"}, "encoding": {"x": {"datum": 0.617}, "x2": {"datum": 0.995}, "y": {"datum": -17.4}}},
        {"mark": {"type": "text", "text": "MYOUNGJI UNIVERSITY", "fontSize": 7.4}, "encoding": {"x": {"datum": 1.472}, "y": {"datum": -10.68}}},
        {"mark": {"type": "text", "text": "NEMO LAB", "fontSize": 5.8}, "encoding": {"x": {"datum": 1.472}, "y": {"datum": -13.25}}},
        {"mark": {"type": "text", "text": "DESIGN BY, SANGHEE LIM.", "fontSize": 5.8}, "encoding": {"x": {"datum": 1.472}, "y": {"datum": -15.17}}},
        {"mark": {"type": "text", "text": "LCD90_14Z_14_GLASS.ZMX", "fontSize": 5.8}, "encoding": {"x": {"datum": 1.472}, "y": {"datum": -17.58}}},
        {"mark": {"type": "text", "text": "CONFIGURATION 5 OF 5", "fontSize": 5.8}, "encoding": {"x": {"datum": 1.472}, "y": {"datum": -19.41}}}
      ]},
      {"layer": [
        {"data": {"name": "dgx2"}, "mark": {"type": "rule", "color": "#d2d2d2", "strokeWidth": 0.6, "strokeDash": [1, 1.5]}, "encoding": {"x": {"field": "v", "type": "quantitative", "scale": {"domain": [-7.423, 2.51], "nice": false, "zero": false}, "axis": null}, "y": {"datum": 0}, "y2": {"datum": 41}}},
        {"data": {"name": "fgy"}, "mark": {"type": "rule", "color": "#d2d2d2", "strokeWidth": 0.6, "strokeDash": [1, 1.5]}, "encoding": {"y": {"field": "v", "type": "quantitative"}, "x": {"datum": -2}, "x2": {"datum": 2}}},
        {"mark": {"type": "rule", "color": "#777777"}, "encoding": {"x": {"datum": -2}, "x2": {"datum": 2}, "y": {"datum": 0}}},
        {"data": {"name": "dgx2"}, "mark": {"type": "rule", "color": "#777777", "strokeWidth": 0.7}, "encoding": {"x": {"field": "v", "type": "quantitative"}, "y": {"datum": -0.5}, "y2": {"datum": 0.5}}},
        {"mark": {"type": "rule", "color": "#777777"}, "encoding": {"x": {"datum": 0}, "y": {"datum": 0}, "y2": {"datum": 41.8}}},
        {"data": {"name": "fgy"}, "mark": {"type": "rule", "color": "#777777", "strokeWidth": 0.7}, "encoding": {"y": {"field": "v", "type": "quantitative"}, "x": {"datum": -0.047}, "x2": {"datum": 0.047}}},
        {"mark": {"type": "rule", "color": "#777777", "strokeWidth": 0.7}, "encoding": {"x": {"datum": -0.05}, "x2": {"datum": 0.05}, "y": {"datum": 41.8}}},
        {"data": {"name": "d1"}, "mark": {"type": "line", "interpolate": "catmull-rom", "strokeWidth": 1}, "encoding": {"x": {"field": "p", "type": "quantitative"}, "y": {"field": "fy", "type": "quantitative"}, "color": {"field": "c", "type": "nominal", "scale": {"domain": ["b","g","r","d"], "range": ["#4646b8","#5ccb66","#d9534f","#a04d46"]}, "legend": null}, "order": {"field": "fy", "type": "quantitative"}}},
        {"mark": {"type": "text", "text": "+Y", "fontSize": 4.5, "align": "left"}, "encoding": {"x": {"datum": -0.043}, "y": {"datum": 42.47}}},
        {"mark": {"type": "text", "text": "DISTORTION", "fontSize": 6.3}, "encoding": {"x": {"datum": 0}, "y": {"datum": 46.34}}},
        {"data": {"name": "dl2"}, "mark": {"type": "text", "fontSize": 4.5}, "encoding": {"x": {"field": "v", "type": "quantitative"}, "y": {"datum": -1.45}, "text": {"field": "t"}}},
        {"mark": {"type": "text", "text": "PERCENT", "fontSize": 6}, "encoding": {"x": {"datum": 0}, "y": {"datum": -3.9}}}
      ]}
    ]
  }
  ]
},
{
  "title": {"text": "0.30 X", "anchor": "middle", "offset": 9},
  "spacing": 54,
  "hconcat": [
  {
    "width": 299, "height": 225,
    "title": {"text": "MTF", "orient": "bottom", "offset": 5},
    "layer": [
      {"data": {"name": "mgx"}, "mark": {"type": "rule", "color": "#e2e2e2", "strokeWidth": 0.7}, "encoding": {"x": {"field": "v", "type": "quantitative", "scale": {"domain": [-5.92, 53.09], "nice": false, "zero": false}, "axis": null}, "y": {"datum": 0, "scale": {"domain": [-0.509, 1.166], "nice": false, "zero": false}, "axis": null}, "y2": {"datum": 1}}},
      {"data": {"name": "mgy"}, "mark": {"type": "rule", "color": "#e2e2e2", "strokeWidth": 0.7}, "encoding": {"y": {"field": "v", "type": "quantitative"}, "x": {"datum": 0}, "x2": {"datum": 50}}},
      {"data": {"values": [{"v": 0}, {"v": 50}]}, "mark": {"type": "rule"}, "encoding": {"x": {"field": "v", "type": "quantitative"}, "y": {"datum": 0}, "y2": {"datum": 1}}},
      {"data": {"values": [{"v": 0}, {"v": 1}]}, "mark": {"type": "rule"}, "encoding": {"y": {"field": "v", "type": "quantitative"}, "x": {"datum": 0}, "x2": {"datum": 50}}},
      {"data": {"name": "mgx"}, "mark": {"type": "text", "fontSize": 4.5}, "encoding": {"x": {"field": "v", "type": "quantitative"}, "y": {"datum": -0.035}, "text": {"field": "v", "type": "quantitative"}}},
      {"data": {"name": "mgy"}, "mark": {"type": "text", "fontSize": 4.5}, "encoding": {"y": {"field": "v", "type": "quantitative"}, "x": {"datum": -1.84}, "text": {"field": "v", "type": "quantitative", "format": ".1f"}}},
      {"mark": {"type": "text", "text": "MODULUS OF THE OTF", "angle": 270, "fontSize": 5.6}, "encoding": {"x": {"datum": -4.5}, "y": {"datum": 0.5}}},
      {"mark": {"type": "text", "text": "SPATIAL FREQUENCY IN CYCLES PER MM", "fontSize": 6.5}, "encoding": {"x": {"datum": 25}, "y": {"datum": -0.085}}},
      {"data": {"name": "m2"}, "mark": {"type": "line", "interpolate": "monotone", "strokeWidth": 1}, "encoding": {"x": {"field": "f", "type": "quantitative"}, "y": {"field": "m", "type": "quantitative"}, "color": {"field": "c", "type": "nominal", "scale": {"domain": ["b","g","r","d"], "range": ["#4646b8","#5ccb66","#d9534f","#a04d46"]}, "legend": null}, "detail": {"field": "s"}}},
      {"data": {"name": "ml2"}, "transform": [{"filter": "datum.c == 'b'"}], "mark": {"type": "rule", "strokeWidth": 0.8}, "encoding": {"x": {"field": "f", "type": "quantitative"}, "y": {"field": "m", "type": "quantitative"}, "y2": {"datum": 1.074}, "color": {"field": "c", "type": "nominal", "scale": {"domain": ["b","g","r","d"], "range": ["#4646b8","#5ccb66","#d9534f","#a04d46"]}, "legend": null}}},
      {"data": {"name": "ml2"}, "transform": [{"filter": "datum.c == 'g'"}], "mark": {"type": "rule", "strokeWidth": 0.8}, "encoding": {"x": {"field": "f", "type": "quantitative"}, "y": {"field": "m", "type": "quantitative"}, "y2": {"datum": 1.037}, "color": {"field": "c", "type": "nominal", "scale": {"domain": ["b","g","r","d"], "range": ["#4646b8","#5ccb66","#d9534f","#a04d46"]}, "legend": null}}},
      {"data": {"name": "ml2"}, "transform": [{"filter": "datum.c == 'r'"}], "mark": {"type": "rule", "strokeWidth": 0.8}, "encoding": {"x": {"field": "f", "type": "quantitative"}, "y": {"field": "m", "type": "quantitative"}, "y2": {"datum": 1.118}, "color": {"field": "c", "type": "nominal", "scale": {"domain": ["b","g","r","d"], "range": ["#4646b8","#5ccb66","#d9534f","#a04d46"]}, "legend": null}}},
      {"mark": {"type": "text", "text": "TS 0.00 MM", "align": "left", "fontSize": 5.3}, "encoding": {"x": {"datum": 3.4}, "y": {"datum": 1.092}}},
      {"mark": {"type": "text", "text": "TS 20.00 MM", "align": "left", "fontSize": 5.3}, "encoding": {"x": {"datum": 4.7}, "y": {"datum": 1.05}}},
      {"mark": {"type": "text", "text": "TS 41.00 MM", "align": "left", "fontSize": 5.3}, "encoding": {"x": {"datum": 27.1}, "y": {"datum": 1.132}}},
      {"mark": {"type": "rule", "color": "#9a9a9a"}, "encoding": {"x": {"datum": -5.92}, "x2": {"datum": 53.09}, "y": {"datum": -0.167}}},
      {"mark": {"type": "rule", "color": "#9a9a9a"}, "encoding": {"x": {"datum": -5.92}, "x2": {"datum": 53.09}, "y": {"datum": -0.223}}},
      {"mark": {"type": "rule", "color": "#9a9a9a"}, "encoding": {"x": {"datum": 33.4}, "y": {"datum": -0.223}, "y2": {"datum": -0.509}}},
      {"mark": {"type": "rule", "color": "#9a9a9a"}, "encoding": {"x": {"datum": 33.4}, "x2": {"datum": 53.09}, "y": {"datum": -0.402}}},
      {"mark": {"type": "text", "text": "POLYCHROMATIC DIFFRACTION MTF", "fontSize": 6.2}, "encoding": {"x": {"datum": 23.6}, "y": {"datum": -0.197}}},
      {"mark": {"type": "text", "text": "MON APR 7 21:55:43 2014", "align": "left", "fontSize": 6.2}, "encoding": {"x": {"datum": -5.13}, "y": {"datum": -0.2994}}},
      {"mark": {"type": "text", "text": "DATA FOR 0.4861 TO 0.6563 µm.", "align": "left", "fontSize": 6.2}, "encoding": {"x": {"datum": -5.13}, "y": {"datum": -0.3455}}},
      {"mark": {"type": "text", "text": "SURFACE: IMAGE", "align": "left", "fontSize": 6.2}, "encoding": {"x": {"datum": -5.13}, "y": {"datum": -0.3917}}},
      {"mark": {"type": "text", "text": "MYOUNGJI UNIVERSITY", "fontSize": 7.4}, "encoding": {"x": {"datum": 43.2}, "y": {"datum": -0.261}}},
      {"mark": {"type": "text", "text": "NEMO LAB", "fontSize": 5.8}, "encoding": {"x": {"datum": 43.2}, "y": {"datum": -0.323}}},
      {"mark": {"type": "text", "text": "DESIGN BY, SANGHEE LIM.", "fontSize": 5.8}, "encoding": {"x": {"datum": 43.2}, "y": {"datum": -0.37}}},
      {"mark": {"type": "text", "text": "LCD90_14Z_14_GLASS.ZMX", "fontSize": 5.8}, "encoding": {"x": {"datum": 43.2}, "y": {"datum": -0.429}}},
      {"mark": {"type": "text", "text": "CONFIGURATION 3 OF 5", "fontSize": 5.8}, "encoding": {"x": {"datum": 43.2}, "y": {"datum": -0.474}}}
    ]
  },
  {
    "width": 298, "height": 225,
    "title": {"text": "Field curve & Distortion", "orient": "bottom", "offset": 5},
    "resolve": {"scale": {"x": "independent"}},
    "layer": [
      {"layer": [
        {"data": {"name": "fgx"}, "mark": {"type": "rule", "color": "#d2d2d2", "strokeWidth": 0.6, "strokeDash": [1, 1.5]}, "encoding": {"x": {"field": "v", "type": "quantitative", "scale": {"domain": [-0.612, 1.892], "nice": false, "zero": false}, "axis": null}, "y": {"datum": 0, "scale": {"domain": [-20.88, 47.81], "nice": false, "zero": false}, "axis": null}, "y2": {"datum": 41}}},
        {"data": {"name": "fgy"}, "mark": {"type": "rule", "color": "#d2d2d2", "strokeWidth": 0.6, "strokeDash": [1, 1.5]}, "encoding": {"y": {"field": "v", "type": "quantitative"}, "x": {"datum": -0.5}, "x2": {"datum": 0.5}}},
        {"mark": {"type": "rule", "color": "#777777"}, "encoding": {"x": {"datum": -0.5}, "x2": {"datum": 0.5}, "y": {"datum": 0}}},
        {"data": {"name": "fgx"}, "mark": {"type": "rule", "color": "#777777", "strokeWidth": 0.7}, "encoding": {"x": {"field": "v", "type": "quantitative"}, "y": {"datum": -0.5}, "y2": {"datum": 0.5}}},
        {"mark": {"type": "rule", "color": "#777777"}, "encoding": {"x": {"datum": 0}, "y": {"datum": 0}, "y2": {"datum": 41.8}}},
        {"data": {"name": "fgy"}, "mark": {"type": "rule", "color": "#777777", "strokeWidth": 0.7}, "encoding": {"y": {"field": "v", "type": "quantitative"}, "x": {"datum": -0.013}, "x2": {"datum": 0.013}}},
        {"mark": {"type": "rule", "color": "#777777", "strokeWidth": 0.7}, "encoding": {"x": {"datum": -0.015}, "x2": {"datum": 0.015}, "y": {"datum": 41.8}}},
        {"data": {"name": "f2"}, "mark": {"type": "line", "interpolate": "catmull-rom", "strokeWidth": 1}, "encoding": {"x": {"field": "mm", "type": "quantitative"}, "y": {"field": "fy", "type": "quantitative"}, "color": {"field": "c", "type": "nominal", "scale": {"domain": ["b","g","r","d"], "range": ["#4646b8","#5ccb66","#d9534f","#a04d46"]}, "legend": null}, "detail": {"field": "s"}, "order": {"field": "fy", "type": "quantitative"}}},
        {"data": {"name": "f2"}, "transform": [{"filter": "datum.fy == 41"}], "mark": {"type": "text", "fontSize": 5.5}, "encoding": {"x": {"field": "mm", "type": "quantitative"}, "y": {"datum": 44.15}, "text": {"field": "s"}, "color": {"field": "c", "type": "nominal", "scale": {"domain": ["b","g","r","d"], "range": ["#4646b8","#5ccb66","#d9534f","#a04d46"]}, "legend": null}}},
        {"mark": {"type": "text", "text": "+Y", "fontSize": 4.5, "align": "left"}, "encoding": {"x": {"datum": -0.011}, "y": {"datum": 42.47}}},
        {"mark": {"type": "text", "text": "FIELD CURVATURE", "fontSize": 6.3}, "encoding": {"x": {"datum": 0}, "y": {"datum": 46.34}}},
        {"data": {"name": "fcl"}, "mark": {"type": "text", "fontSize": 4.5}, "encoding": {"x": {"field": "v", "type": "quantitative"}, "y": {"datum": -1.45}, "text": {"field": "t"}}},
        {"mark": {"type": "text", "text": "MILLIMETERS", "fontSize": 6}, "encoding": {"x": {"datum": 0}, "y": {"datum": -3.9}}},
        {"mark": {"type": "rule", "color": "#9a9a9a"}, "encoding": {"x": {"datum": -0.612}, "x2": {"datum": 1.892}, "y": {"datum": -6.84}}},
        {"mark": {"type": "rule", "color": "#9a9a9a"}, "encoding": {"x": {"datum": -0.612}, "x2": {"datum": 1.892}, "y": {"datum": -9.16}}},
        {"mark": {"type": "rule", "color": "#9a9a9a"}, "encoding": {"x": {"datum": 1.05}, "y": {"datum": -9.16}, "y2": {"datum": -20.88}}},
        {"mark": {"type": "rule", "color": "#9a9a9a"}, "encoding": {"x": {"datum": 1.05}, "x2": {"datum": 1.892}, "y": {"datum": -16.48}}},
        {"mark": {"type": "text", "text": "FIELD CURVATURE / F-TAN(THETA) DISTORTION", "fontSize": 6}, "encoding": {"x": {"datum": 0.64}, "y": {"datum": -8.06}}},
        {"mark": {"type": "text", "text": "MON APR 7 21:55:43 2014", "align": "left", "fontSize": 6.2}, "encoding": {"x": {"datum": -0.578}, "y": {"datum": -12.27}}},
        {"mark": {"type": "text", "text": "MAXIMUM FIELD IS 41.000 MILLIMETERS", "align": "left", "fontSize": 6}, "encoding": {"x": {"datum": -0.578}, "y": {"datum": -14.16}}},
        {"mark": {"type": "text", "text": "WAVELENGTHS:", "align": "left", "fontSize": 6}, "encoding": {"x": {"datum": -0.578}, "y": {"datum": -16.06}}},
        {"mark": {"type": "text", "text": "0.486", "fontSize": 6, "color": "#4646b8"}, "encoding": {"x": {"datum": -0.036}, "y": {"datum": -16.06}}},
        {"mark": {"type": "text", "text": "0.588", "fontSize": 6, "color": "#5ccb66"}, "encoding": {"x": {"datum": 0.371}, "y": {"datum": -16.06}}},
        {"mark": {"type": "text", "text": "0.656", "fontSize": 6, "color": "#d9534f"}, "encoding": {"x": {"datum": 0.754}, "y": {"datum": -16.06}}},
        {"mark": {"type": "rule", "color": "#4646b8"}, "encoding": {"x": {"datum": -0.168}, "x2": {"datum": 0.196}, "y": {"datum": -17.4}}},
        {"mark": {"type": "rule", "color": "#5ccb66"}, "encoding": {"x": {"datum": 0.224}, "x2": {"datum": 0.589}, "y": {"datum": -17.4}}},
        {"mark": {"type": "rule", "color": "#d9534f"}, "encoding": {"x": {"datum": 0.617}, "x2": {"datum": 0.995}, "y": {"datum": -17.4}}},
        {"mark": {"type": "text", "text": "MYOUNGJI UNIVERSITY", "fontSize": 7.4}, "encoding": {"x": {"datum": 1.472}, "y": {"datum": -10.68}}},
        {"mark": {"type": "text", "text": "NEMO LAB", "fontSize": 5.8}, "encoding": {"x": {"datum": 1.472}, "y": {"datum": -13.25}}},
        {"mark": {"type": "text", "text": "DESIGN BY, SANGHEE LIM.", "fontSize": 5.8}, "encoding": {"x": {"datum": 1.472}, "y": {"datum": -15.17}}},
        {"mark": {"type": "text", "text": "LCD90_14Z_14_GLASS.ZMX", "fontSize": 5.8}, "encoding": {"x": {"datum": 1.472}, "y": {"datum": -17.58}}},
        {"mark": {"type": "text", "text": "CONFIGURATION 3 OF 5", "fontSize": 5.8}, "encoding": {"x": {"datum": 1.472}, "y": {"datum": -19.41}}}
      ]},
      {"layer": [
        {"data": {"name": "dgx1"}, "mark": {"type": "rule", "color": "#d2d2d2", "strokeWidth": 0.6, "strokeDash": [1, 1.5]}, "encoding": {"x": {"field": "v", "type": "quantitative", "scale": {"domain": [-3.712, 1.255], "nice": false, "zero": false}, "axis": null}, "y": {"datum": 0}, "y2": {"datum": 41}}},
        {"data": {"name": "fgy"}, "mark": {"type": "rule", "color": "#d2d2d2", "strokeWidth": 0.6, "strokeDash": [1, 1.5]}, "encoding": {"y": {"field": "v", "type": "quantitative"}, "x": {"datum": -1}, "x2": {"datum": 1}}},
        {"mark": {"type": "rule", "color": "#777777"}, "encoding": {"x": {"datum": -1}, "x2": {"datum": 1}, "y": {"datum": 0}}},
        {"data": {"name": "dgx1"}, "mark": {"type": "rule", "color": "#777777", "strokeWidth": 0.7}, "encoding": {"x": {"field": "v", "type": "quantitative"}, "y": {"datum": -0.5}, "y2": {"datum": 0.5}}},
        {"mark": {"type": "rule", "color": "#777777"}, "encoding": {"x": {"datum": 0}, "y": {"datum": 0}, "y2": {"datum": 41.8}}},
        {"data": {"name": "fgy"}, "mark": {"type": "rule", "color": "#777777", "strokeWidth": 0.7}, "encoding": {"y": {"field": "v", "type": "quantitative"}, "x": {"datum": -0.023}, "x2": {"datum": 0.023}}},
        {"mark": {"type": "rule", "color": "#777777", "strokeWidth": 0.7}, "encoding": {"x": {"datum": -0.025}, "x2": {"datum": 0.025}, "y": {"datum": 41.8}}},
        {"data": {"name": "d2"}, "mark": {"type": "line", "interpolate": "catmull-rom", "strokeWidth": 1}, "encoding": {"x": {"field": "p", "type": "quantitative"}, "y": {"field": "fy", "type": "quantitative"}, "color": {"field": "c", "type": "nominal", "scale": {"domain": ["b","g","r","d"], "range": ["#4646b8","#5ccb66","#d9534f","#a04d46"]}, "legend": null}, "order": {"field": "fy", "type": "quantitative"}}},
        {"mark": {"type": "text", "text": "+Y", "fontSize": 4.5, "align": "left"}, "encoding": {"x": {"datum": -0.022}, "y": {"datum": 42.47}}},
        {"mark": {"type": "text", "text": "DISTORTION", "fontSize": 6.3}, "encoding": {"x": {"datum": 0}, "y": {"datum": 46.34}}},
        {"data": {"name": "dl1"}, "mark": {"type": "text", "fontSize": 4.5}, "encoding": {"x": {"field": "v", "type": "quantitative"}, "y": {"datum": -1.45}, "text": {"field": "t"}}},
        {"mark": {"type": "text", "text": "PERCENT", "fontSize": 6}, "encoding": {"x": {"datum": 0}, "y": {"datum": -3.9}}}
      ]}
    ]
  }
  ]
},
{
  "title": {"text": "0.15 X", "anchor": "middle", "offset": 9},
  "spacing": 54,
  "hconcat": [
  {
    "width": 299, "height": 225,
    "title": {"text": "MTF", "orient": "bottom", "offset": 5},
    "layer": [
      {"data": {"name": "mgx"}, "mark": {"type": "rule", "color": "#e2e2e2", "strokeWidth": 0.7}, "encoding": {"x": {"field": "v", "type": "quantitative", "scale": {"domain": [-5.92, 53.09], "nice": false, "zero": false}, "axis": null}, "y": {"datum": 0, "scale": {"domain": [-0.509, 1.166], "nice": false, "zero": false}, "axis": null}, "y2": {"datum": 1}}},
      {"data": {"name": "mgy"}, "mark": {"type": "rule", "color": "#e2e2e2", "strokeWidth": 0.7}, "encoding": {"y": {"field": "v", "type": "quantitative"}, "x": {"datum": 0}, "x2": {"datum": 50}}},
      {"data": {"values": [{"v": 0}, {"v": 50}]}, "mark": {"type": "rule"}, "encoding": {"x": {"field": "v", "type": "quantitative"}, "y": {"datum": 0}, "y2": {"datum": 1}}},
      {"data": {"values": [{"v": 0}, {"v": 1}]}, "mark": {"type": "rule"}, "encoding": {"y": {"field": "v", "type": "quantitative"}, "x": {"datum": 0}, "x2": {"datum": 50}}},
      {"data": {"name": "mgx"}, "mark": {"type": "text", "fontSize": 4.5}, "encoding": {"x": {"field": "v", "type": "quantitative"}, "y": {"datum": -0.035}, "text": {"field": "v", "type": "quantitative"}}},
      {"data": {"name": "mgy"}, "mark": {"type": "text", "fontSize": 4.5}, "encoding": {"y": {"field": "v", "type": "quantitative"}, "x": {"datum": -1.84}, "text": {"field": "v", "type": "quantitative", "format": ".1f"}}},
      {"mark": {"type": "text", "text": "MODULUS OF THE OTF", "angle": 270, "fontSize": 5.6}, "encoding": {"x": {"datum": -4.5}, "y": {"datum": 0.5}}},
      {"mark": {"type": "text", "text": "SPATIAL FREQUENCY IN CYCLES PER MM", "fontSize": 6.5}, "encoding": {"x": {"datum": 25}, "y": {"datum": -0.085}}},
      {"data": {"name": "m3"}, "mark": {"type": "line", "interpolate": "monotone", "strokeWidth": 1}, "encoding": {"x": {"field": "f", "type": "quantitative"}, "y": {"field": "m", "type": "quantitative"}, "color": {"field": "c", "type": "nominal", "scale": {"domain": ["b","g","r","d"], "range": ["#4646b8","#5ccb66","#d9534f","#a04d46"]}, "legend": null}, "detail": {"field": "s"}}},
      {"data": {"name": "ml3"}, "transform": [{"filter": "datum.c == 'b'"}], "mark": {"type": "rule", "strokeWidth": 0.8}, "encoding": {"x": {"field": "f", "type": "quantitative"}, "y": {"field": "m", "type": "quantitative"}, "y2": {"datum": 1.074}, "color": {"field": "c", "type": "nominal", "scale": {"domain": ["b","g","r","d"], "range": ["#4646b8","#5ccb66","#d9534f","#a04d46"]}, "legend": null}}},
      {"data": {"name": "ml3"}, "transform": [{"filter": "datum.c == 'g'"}], "mark": {"type": "rule", "strokeWidth": 0.8}, "encoding": {"x": {"field": "f", "type": "quantitative"}, "y": {"field": "m", "type": "quantitative"}, "y2": {"datum": 1.037}, "color": {"field": "c", "type": "nominal", "scale": {"domain": ["b","g","r","d"], "range": ["#4646b8","#5ccb66","#d9534f","#a04d46"]}, "legend": null}}},
      {"data": {"name": "ml3"}, "transform": [{"filter": "datum.c == 'r'"}], "mark": {"type": "rule", "strokeWidth": 0.8}, "encoding": {"x": {"field": "f", "type": "quantitative"}, "y": {"field": "m", "type": "quantitative"}, "y2": {"datum": 1.118}, "color": {"field": "c", "type": "nominal", "scale": {"domain": ["b","g","r","d"], "range": ["#4646b8","#5ccb66","#d9534f","#a04d46"]}, "legend": null}}},
      {"mark": {"type": "text", "text": "TS 0.00 MM", "align": "left", "fontSize": 5.3}, "encoding": {"x": {"datum": 3.4}, "y": {"datum": 1.092}}},
      {"mark": {"type": "text", "text": "TS 20.00 MM", "align": "left", "fontSize": 5.3}, "encoding": {"x": {"datum": 4.7}, "y": {"datum": 1.05}}},
      {"mark": {"type": "text", "text": "TS 41.00 MM", "align": "left", "fontSize": 5.3}, "encoding": {"x": {"datum": 27.1}, "y": {"datum": 1.132}}},
      {"mark": {"type": "rule", "color": "#9a9a9a"}, "encoding": {"x": {"datum": -5.92}, "x2": {"datum": 53.09}, "y": {"datum": -0.167}}},
      {"mark": {"type": "rule", "color": "#9a9a9a"}, "encoding": {"x": {"datum": -5.92}, "x2": {"datum": 53.09}, "y": {"datum": -0.223}}},
      {"mark": {"type": "rule", "color": "#9a9a9a"}, "encoding": {"x": {"datum": 33.4}, "y": {"datum": -0.223}, "y2": {"datum": -0.509}}},
      {"mark": {"type": "rule", "color": "#9a9a9a"}, "encoding": {"x": {"datum": 33.4}, "x2": {"datum": 53.09}, "y": {"datum": -0.402}}},
      {"mark": {"type": "text", "text": "POLYCHROMATIC DIFFRACTION MTF", "fontSize": 6.2}, "encoding": {"x": {"datum": 23.6}, "y": {"datum": -0.197}}},
      {"mark": {"type": "text", "text": "MON APR 7 21:54:48 2014", "align": "left", "fontSize": 6.2}, "encoding": {"x": {"datum": -5.13}, "y": {"datum": -0.2994}}},
      {"mark": {"type": "text", "text": "DATA FOR 0.4861 TO 0.6563 µm.", "align": "left", "fontSize": 6.2}, "encoding": {"x": {"datum": -5.13}, "y": {"datum": -0.3455}}},
      {"mark": {"type": "text", "text": "SURFACE: IMAGE", "align": "left", "fontSize": 6.2}, "encoding": {"x": {"datum": -5.13}, "y": {"datum": -0.3917}}},
      {"mark": {"type": "text", "text": "MYOUNGJI UNIVERSITY", "fontSize": 7.4}, "encoding": {"x": {"datum": 43.2}, "y": {"datum": -0.261}}},
      {"mark": {"type": "text", "text": "NEMO LAB", "fontSize": 5.8}, "encoding": {"x": {"datum": 43.2}, "y": {"datum": -0.323}}},
      {"mark": {"type": "text", "text": "DESIGN BY, SANGHEE LIM.", "fontSize": 5.8}, "encoding": {"x": {"datum": 43.2}, "y": {"datum": -0.37}}},
      {"mark": {"type": "text", "text": "LCD90_14Z_14_GLASS.ZMX", "fontSize": 5.8}, "encoding": {"x": {"datum": 43.2}, "y": {"datum": -0.429}}},
      {"mark": {"type": "text", "text": "CONFIGURATION 1 OF 5", "fontSize": 5.8}, "encoding": {"x": {"datum": 43.2}, "y": {"datum": -0.474}}}
    ]
  },
  {
    "width": 298, "height": 225,
    "title": {"text": "Field curve & Distortion", "orient": "bottom", "offset": 5},
    "resolve": {"scale": {"x": "independent"}},
    "layer": [
      {"layer": [
        {"data": {"name": "fgx"}, "mark": {"type": "rule", "color": "#d2d2d2", "strokeWidth": 0.6, "strokeDash": [1, 1.5]}, "encoding": {"x": {"field": "v", "type": "quantitative", "scale": {"domain": [-0.612, 1.892], "nice": false, "zero": false}, "axis": null}, "y": {"datum": 0, "scale": {"domain": [-20.88, 47.81], "nice": false, "zero": false}, "axis": null}, "y2": {"datum": 41}}},
        {"data": {"name": "fgy"}, "mark": {"type": "rule", "color": "#d2d2d2", "strokeWidth": 0.6, "strokeDash": [1, 1.5]}, "encoding": {"y": {"field": "v", "type": "quantitative"}, "x": {"datum": -0.5}, "x2": {"datum": 0.5}}},
        {"mark": {"type": "rule", "color": "#777777"}, "encoding": {"x": {"datum": -0.5}, "x2": {"datum": 0.5}, "y": {"datum": 0}}},
        {"data": {"name": "fgx"}, "mark": {"type": "rule", "color": "#777777", "strokeWidth": 0.7}, "encoding": {"x": {"field": "v", "type": "quantitative"}, "y": {"datum": -0.5}, "y2": {"datum": 0.5}}},
        {"mark": {"type": "rule", "color": "#777777"}, "encoding": {"x": {"datum": 0}, "y": {"datum": 0}, "y2": {"datum": 41.8}}},
        {"data": {"name": "fgy"}, "mark": {"type": "rule", "color": "#777777", "strokeWidth": 0.7}, "encoding": {"y": {"field": "v", "type": "quantitative"}, "x": {"datum": -0.013}, "x2": {"datum": 0.013}}},
        {"mark": {"type": "rule", "color": "#777777", "strokeWidth": 0.7}, "encoding": {"x": {"datum": -0.015}, "x2": {"datum": 0.015}, "y": {"datum": 41.8}}},
        {"data": {"name": "f3"}, "mark": {"type": "line", "interpolate": "catmull-rom", "strokeWidth": 1}, "encoding": {"x": {"field": "mm", "type": "quantitative"}, "y": {"field": "fy", "type": "quantitative"}, "color": {"field": "c", "type": "nominal", "scale": {"domain": ["b","g","r","d"], "range": ["#4646b8","#5ccb66","#d9534f","#a04d46"]}, "legend": null}, "detail": {"field": "s"}, "order": {"field": "fy", "type": "quantitative"}}},
        {"data": {"name": "f3"}, "transform": [{"filter": "datum.fy == 41"}], "mark": {"type": "text", "fontSize": 5.5}, "encoding": {"x": {"field": "mm", "type": "quantitative"}, "y": {"datum": 44.15}, "text": {"field": "s"}, "color": {"field": "c", "type": "nominal", "scale": {"domain": ["b","g","r","d"], "range": ["#4646b8","#5ccb66","#d9534f","#a04d46"]}, "legend": null}}},
        {"mark": {"type": "text", "text": "+Y", "fontSize": 4.5, "align": "left"}, "encoding": {"x": {"datum": -0.011}, "y": {"datum": 42.47}}},
        {"mark": {"type": "text", "text": "FIELD CURVATURE", "fontSize": 6.3}, "encoding": {"x": {"datum": 0}, "y": {"datum": 46.34}}},
        {"data": {"name": "fcl"}, "mark": {"type": "text", "fontSize": 4.5}, "encoding": {"x": {"field": "v", "type": "quantitative"}, "y": {"datum": -1.45}, "text": {"field": "t"}}},
        {"mark": {"type": "text", "text": "MILLIMETERS", "fontSize": 6}, "encoding": {"x": {"datum": 0}, "y": {"datum": -3.9}}},
        {"mark": {"type": "rule", "color": "#9a9a9a"}, "encoding": {"x": {"datum": -0.612}, "x2": {"datum": 1.892}, "y": {"datum": -6.84}}},
        {"mark": {"type": "rule", "color": "#9a9a9a"}, "encoding": {"x": {"datum": -0.612}, "x2": {"datum": 1.892}, "y": {"datum": -9.16}}},
        {"mark": {"type": "rule", "color": "#9a9a9a"}, "encoding": {"x": {"datum": 1.05}, "y": {"datum": -9.16}, "y2": {"datum": -20.88}}},
        {"mark": {"type": "rule", "color": "#9a9a9a"}, "encoding": {"x": {"datum": 1.05}, "x2": {"datum": 1.892}, "y": {"datum": -16.48}}},
        {"mark": {"type": "text", "text": "FIELD CURVATURE / F-TAN(THETA) DISTORTION", "fontSize": 6}, "encoding": {"x": {"datum": 0.64}, "y": {"datum": -8.06}}},
        {"mark": {"type": "text", "text": "MON APR 7 21:55:9 2014", "align": "left", "fontSize": 6.2}, "encoding": {"x": {"datum": -0.578}, "y": {"datum": -12.27}}},
        {"mark": {"type": "text", "text": "MAXIMUM FIELD IS 41.000 MILLIMETERS", "align": "left", "fontSize": 6}, "encoding": {"x": {"datum": -0.578}, "y": {"datum": -14.16}}},
        {"mark": {"type": "text", "text": "WAVELENGTHS:", "align": "left", "fontSize": 6}, "encoding": {"x": {"datum": -0.578}, "y": {"datum": -16.06}}},
        {"mark": {"type": "text", "text": "0.486", "fontSize": 6, "color": "#4646b8"}, "encoding": {"x": {"datum": -0.036}, "y": {"datum": -16.06}}},
        {"mark": {"type": "text", "text": "0.588", "fontSize": 6, "color": "#5ccb66"}, "encoding": {"x": {"datum": 0.371}, "y": {"datum": -16.06}}},
        {"mark": {"type": "text", "text": "0.656", "fontSize": 6, "color": "#d9534f"}, "encoding": {"x": {"datum": 0.754}, "y": {"datum": -16.06}}},
        {"mark": {"type": "rule", "color": "#4646b8"}, "encoding": {"x": {"datum": -0.168}, "x2": {"datum": 0.196}, "y": {"datum": -17.4}}},
        {"mark": {"type": "rule", "color": "#5ccb66"}, "encoding": {"x": {"datum": 0.224}, "x2": {"datum": 0.589}, "y": {"datum": -17.4}}},
        {"mark": {"type": "rule", "color": "#d9534f"}, "encoding": {"x": {"datum": 0.617}, "x2": {"datum": 0.995}, "y": {"datum": -17.4}}},
        {"mark": {"type": "text", "text": "MYOUNGJI UNIVERSITY", "fontSize": 7.4}, "encoding": {"x": {"datum": 1.472}, "y": {"datum": -10.68}}},
        {"mark": {"type": "text", "text": "NEMO LAB", "fontSize": 5.8}, "encoding": {"x": {"datum": 1.472}, "y": {"datum": -13.25}}},
        {"mark": {"type": "text", "text": "DESIGN BY, SANGHEE LIM.", "fontSize": 5.8}, "encoding": {"x": {"datum": 1.472}, "y": {"datum": -15.17}}},
        {"mark": {"type": "text", "text": "LCD90_14Z_14_GLASS.ZMX", "fontSize": 5.8}, "encoding": {"x": {"datum": 1.472}, "y": {"datum": -17.58}}},
        {"mark": {"type": "text", "text": "CONFIGURATION 1 OF 5", "fontSize": 5.8}, "encoding": {"x": {"datum": 1.472}, "y": {"datum": -19.41}}}
      ]},
      {"layer": [
        {"data": {"name": "dgx1"}, "mark": {"type": "rule", "color": "#d2d2d2", "strokeWidth": 0.6, "strokeDash": [1, 1.5]}, "encoding": {"x": {"field": "v", "type": "quantitative", "scale": {"domain": [-3.712, 1.255], "nice": false, "zero": false}, "axis": null}, "y": {"datum": 0}, "y2": {"datum": 41}}},
        {"data": {"name": "fgy"}, "mark": {"type": "rule", "color": "#d2d2d2", "strokeWidth": 0.6, "strokeDash": [1, 1.5]}, "encoding": {"y": {"field": "v", "type": "quantitative"}, "x": {"datum": -1}, "x2": {"datum": 1}}},
        {"mark": {"type": "rule", "color": "#777777"}, "encoding": {"x": {"datum": -1}, "x2": {"datum": 1}, "y": {"datum": 0}}},
        {"data": {"name": "dgx1"}, "mark": {"type": "rule", "color": "#777777", "strokeWidth": 0.7}, "encoding": {"x": {"field": "v", "type": "quantitative"}, "y": {"datum": -0.5}, "y2": {"datum": 0.5}}},
        {"mark": {"type": "rule", "color": "#777777"}, "encoding": {"x": {"datum": 0}, "y": {"datum": 0}, "y2": {"datum": 41.8}}},
        {"data": {"name": "fgy"}, "mark": {"type": "rule", "color": "#777777", "strokeWidth": 0.7}, "encoding": {"y": {"field": "v", "type": "quantitative"}, "x": {"datum": -0.023}, "x2": {"datum": 0.023}}},
        {"mark": {"type": "rule", "color": "#777777", "strokeWidth": 0.7}, "encoding": {"x": {"datum": -0.025}, "x2": {"datum": 0.025}, "y": {"datum": 41.8}}},
        {"data": {"name": "d3"}, "mark": {"type": "line", "interpolate": "catmull-rom", "strokeWidth": 1}, "encoding": {"x": {"field": "p", "type": "quantitative"}, "y": {"field": "fy", "type": "quantitative"}, "color": {"field": "c", "type": "nominal", "scale": {"domain": ["b","g","r","d"], "range": ["#4646b8","#5ccb66","#d9534f","#a04d46"]}, "legend": null}, "order": {"field": "fy", "type": "quantitative"}}},
        {"mark": {"type": "text", "text": "+Y", "fontSize": 4.5, "align": "left"}, "encoding": {"x": {"datum": -0.022}, "y": {"datum": 42.47}}},
        {"mark": {"type": "text", "text": "DISTORTION", "fontSize": 6.3}, "encoding": {"x": {"datum": 0}, "y": {"datum": 46.34}}},
        {"data": {"name": "dl1"}, "mark": {"type": "text", "fontSize": 4.5}, "encoding": {"x": {"field": "v", "type": "quantitative"}, "y": {"datum": -1.45}, "text": {"field": "t"}}},
        {"mark": {"type": "text", "text": "PERCENT", "fontSize": 6}, "encoding": {"x": {"datum": 0}, "y": {"datum": -3.9}}}
      ]}
    ]
  }
  ]
}
]
}
